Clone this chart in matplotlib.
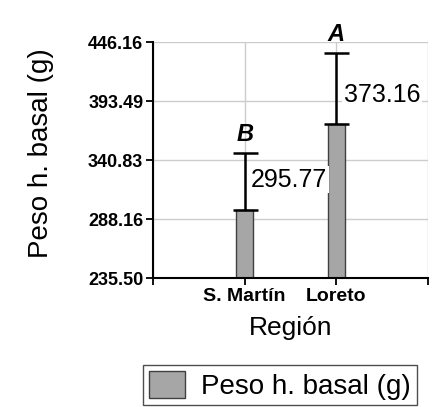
import numpy as np
import matplotlib.pyplot as plt

# datos
regiones = ["S. Martín", "Loreto"]
peso = [295.77, 373.16]
error_sup = [51.3, 63.1]
letras = ["B", "A"]
y_ticks = [235.50, 288.16, 340.83, 393.49, 446.16]
y_labels = ["235.50", "288.16", "340.83", "393.49", "446.16"]

plt.rcParams['font.family'] = ['Liberation Sans', 'DejaVu Sans']

fig = plt.figure(figsize=(4.4, 4.07), dpi=100)
fig.patch.set_facecolor('white')

ax = fig.add_axes([153 / 440, 1 - 278 / 407, 275 / 440, 236 / 407])

x = np.arange(len(regiones))
ax.bar(x, peso, width=0.19, color='#a6a6a6', edgecolor='#404040', linewidth=1.0,
       zorder=3)
ax.errorbar(x, peso, yerr=[np.zeros(len(peso)), error_sup], fmt='none',
            ecolor='black', elinewidth=1.8, capsize=9, capthick=1.8, zorder=4)

ax.set_xlim(-1, 2)
ax.set_ylim(y_ticks[0], y_ticks[-1])
ax.set_yticks(y_ticks)
ax.set_yticklabels(y_labels, fontsize=13, fontweight='bold')
ax.set_xticks([-1, 0, 1, 2])
ax.set_xticklabels([""] + regiones + [""], fontsize=14, fontweight='bold')

ax.grid(True, color='#cccccc', linewidth=1.0, zorder=0)
for s in ['top', 'right']:
    ax.spines[s].set_visible(False)
for s in ['left', 'bottom']:
    ax.spines[s].set_linewidth(1.5)
    ax.spines[s].set_zorder(5)
ax.tick_params(axis='both', direction='out', length=5, width=1.3, pad=2)

ax.set_ylabel("Peso h. basal (g)", fontsize=20)
ax.yaxis.set_label_coords(-0.36, 0.53)
ax.set_xlabel("Región", fontsize=19)
ax.xaxis.set_label_coords(0.5, -0.16)

# etiquetas de datos
ax.text(0.07, 323, "295.77", fontsize=18, ha='left', va='center', zorder=6,
        bbox=dict(facecolor='white', edgecolor='none', pad=1))
ax.text(1.08, 399, "373.16", fontsize=18, ha='left', va='center', zorder=6,
        bbox=dict(facecolor='white', edgecolor='none', pad=1))

# letras de significancia
for xi, p, e, l in zip(x, peso, error_sup, letras):
    ax.annotate(l, (xi, p + e), xytext=(0, 5), textcoords='offset points',
                ha='center', va='bottom', fontsize=17, fontweight='bold',
                fontstyle='italic', annotation_clip=False, zorder=6)

leg = fig.legend(["Peso h. basal (g)"], loc='upper left',
                 bbox_to_anchor=(143 / 440, 1 - 365 / 407), fontsize=20,
                 frameon=True, fancybox=False, handlelength=1.3,
                 handleheight=1.15, borderpad=0.2, handletextpad=0.6,
                 borderaxespad=0)
leg.get_frame().set_edgecolor('#222222')
leg.get_frame().set_linewidth(1.0)

fig.savefig("out.png", dpi=100, facecolor='white')
